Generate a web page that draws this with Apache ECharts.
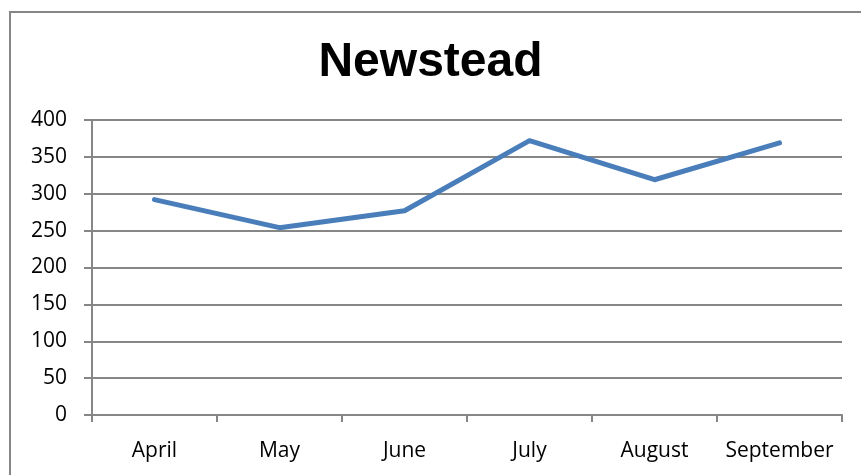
<!DOCTYPE html>
<html><head><meta charset="utf-8">
<script src="https://cdn.jsdelivr.net/npm/echarts@6/dist/echarts.min.js"></script>
<style>html,body{margin:0;padding:0;background:#fff}#c{width:861px;height:475px}</style>
</head><body><div id="c"></div>
<script>
const categories = ['April','May','June','July','August','September'];
const values = [292, 254, 277, 372, 319, 369];
const yTicks = [0, 50, 100, 150, 200, 250, 300, 350, 400];

const chart = echarts.init(document.getElementById('c'), null, {renderer:'canvas'});
chart.setOption({
  animation: false,
  backgroundColor: '#fff',
  title: {
    text: 'Newstead', left: 'center', top: 34,
    textStyle: {fontFamily: 'Liberation Sans', fontWeight: 'bold', fontSize: 48, color: '#000'}
  },
  graphic: [{
    type: 'rect', shape: {x: 10, y: 12, width: 900, height: 500},
    style: {fill: 'none', stroke: '#868686', lineWidth: 2}, silent: true
  }],
  grid: {left: 92, right: 19, top: 120, bottom: 60},
  xAxis: {
    type: 'category', data: categories, boundaryGap: true,
    axisLine: {lineStyle: {color: '#868686', width: 2}},
    axisTick: {show: true, interval: 0, length: 7, lineStyle: {color: '#868686', width: 2}},
    axisLabel: {color: '#000', fontFamily: 'Open Sans', fontSize: 21, margin: 26, interval: 0, hideOverlap: false}
  },
  yAxis: {
    type: 'value', min: yTicks[0], max: yTicks[yTicks.length-1], interval: 50,
    axisLine: {show: true, lineStyle: {color: '#868686', width: 2}},
    axisTick: {show: true, length: 8, lineStyle: {color: '#868686', width: 2}},
    splitLine: {lineStyle: {color: '#868686', width: 2}},
    axisLabel: {color: '#000', fontFamily: 'Open Sans', fontSize: 21, margin: 25}
  },
  series: [{
    type: 'line', data: values, symbol: 'none',
    lineStyle: {color: '#4a7ebb', width: 5, cap: 'round', join: 'round'}
  }]
});
</script></body></html>
